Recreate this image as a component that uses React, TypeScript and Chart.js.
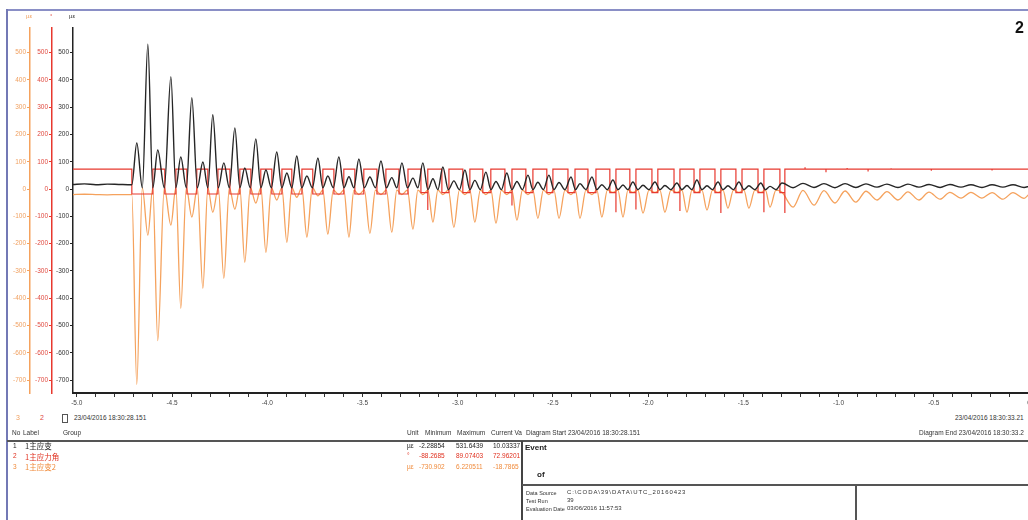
import React, { useEffect, useRef } from 'react';
import { Chart, registerables } from 'chart.js';

Chart.register(...registerables);

// ---- data (x in seconds, y in series units) ----
// times of main (large) black peaks, one per cycle
const mainT = [-4.627, -4.506, -4.396, -4.286, -4.170, -4.060, -3.950, -3.845, -3.734, -3.624, -3.519, -3.403, -3.293, -3.183, -3.078, -2.962, -2.852, -2.742, -2.631, -2.521, -2.405, -2.295, -2.185, -2.080, -1.964, -1.849, -1.744, -1.633, -1.523, -1.408, -1.297, -1.187, -1.077, -0.966, -0.856, -0.746, -0.636, -0.525, -0.415, -0.305, -0.194, -0.084];
// times of secondary black peaks / deep orange troughs (preceding each main peak)
const secT = [-4.685, -4.575, -4.454, -4.338, -4.228, -4.118, -4.007, -3.897, -3.792, -3.682, -3.571, -3.461, -3.346, -3.235, -3.130, -3.020, -2.910, -2.799, -2.689, -2.579, -2.468, -2.358, -2.243, -2.132, -2.027, -1.912, -1.796, -1.691, -1.581, -1.471, -1.360, -1.239, -1.129, -1.019, -0.909, -0.798, -0.688, -0.578, -0.467, -0.357, -0.247, -0.137];

// black series 1主应变 (µε)
const blackMain = [531, 412, 335, 272, 224, 184, 136, 121, 114, 118, 110, 103, 96, 96, 81, 70, 62, 59, 51, 51, 44, 44, 33, 26, 26, 22, 33, 26, 26, 22, 22, 21, 20, 20, 19, 18, 18, 17, 17, 16, 16, 16];
const blackSec = [169, 143, 118, 99, 96, 77, 70, 59, 48, 48, 45, 44, 42, 40, 38, 30, 32, 28, 28, 25, 24, 20, 16, 15, 14, 13, 13, 12, 12, 12, 10, 5, 6, 5, 6, 7, 6, 7, 6, 7, 6, 7];
const blackLow: (number | null)[] = [5, 5, 5, 5, 5, 5, 5, 5, 5, 5, 5, 5, 5, 5, -2, -2, -2, -2, -2, -2, -2, -2, -2, -2, -2, -2, -2, -2, -2, -2, -2, null, null, null, null, null, null, null, null, null, null, null];
const preT = [-5.02, -4.96, -4.9, -4.84, -4.78, -4.711];
const blackPre = [17, 19, 16, 18, 17, 16];
const finalT = [-0.026, 0];
const blackFinal = [6, 10];

// orange series 1主应变2 (µε)
const orangeTrough = [-715, -555, -437, -364, -327, -268, -232, -195, -176, -165, -176, -162, -158, -147, -121, -140, -121, -125, -114, -107, -107, -107, -103, -103, -88, -85, -85, -77, -70, -70, -66, -66, -59, -51, -48, -40, -40, -40, -37, -33, -33, -37];
const orangeDip = [-169, -132, -103, -85, -74, -51, -40, -30, -25, -20, -20, -20, -20, -20, -20, -20, -20, -20, -20, -20, -20, -20, -12, -12, -12, -12, -12, -12, -12, -12, -12, -5, -6, -7, -8, -9, -10, -11, -12, -12, -13, -13];
const orangeHigh: (number | null)[] = [5, 5, 5, 5, 5, 5, 5, 5, 5, -4, -4, -4, -4, -4, -4, -4, -4, -4, -4, -4, -4, -4, -4, -4, -4, -4, -4, -4, -4, -4, -4, null, null, null, null, null, null, null, null, null, null, null];
const orangePre = [-20, -19, -20, -21, -20, -20];
const orangeFinal = [-34, -19];

// red series 1主应力角 (°)
const redHigh = 73;
const redDropStart = [-4.711, -4.538, -4.422, -4.312, -4.196, -4.086, -3.976, -3.871, -3.761, -3.650, -3.540, -3.424, -3.308, -3.193, -3.083, -2.973, -2.868, -2.752, -2.642, -2.532, -2.421, -2.316, -2.201, -2.096, -1.980, -1.864, -1.759, -1.649, -1.539, -1.423, -1.308];
const redDropEnd = [-4.601, -4.480, -4.370, -4.259, -4.144, -4.034, -3.923, -3.818, -3.708, -3.598, -3.493, -3.377, -3.261, -3.157, -3.046, -2.936, -2.826, -2.715, -2.605, -2.500, -2.384, -2.274, -2.169, -2.064, -1.949, -1.833, -1.728, -1.618, -1.507, -1.392, -1.282];
const redLow = [-18, -18, -18, -18, -18, -18, -18, -18, -18, -18, -18, -18, -18, -13, -13, -13, -13, -13, -13, -13, -13, -13, -13, -13, -13, -13, -13, -13, -13, -13, -13];
const redSpike: (number | null)[] = [null, null, null, null, null, null, null, null, null, null, null, null, null, -77, null, null, null, -60, null, null, null, null, -85, -75, null, -80, null, -88, null, -85, -88];
const redBlipT = [-1.176, -1.066, -0.955, -0.845, -0.724, -0.513, -0.357, -0.194];
const redBlipV = [80, 62, 77, 64, 76, 67, 75, 68];

// axes
const X_MIN = -5.02;
const X_MAX = 0;
const Y_MIN = -747;
const Y_MAX = 590;

const FONT = '"Liberation Sans", Arial, Helvetica, sans-serif';
const CJK = '"Noto Sans CJK SC", "Liberation Sans", sans-serif';

function buildBlack() {
  const pts: { x: number; y: number }[] = preT.map((t, i) => ({ x: t, y: blackPre[i] }));
  for (let i = 0; i < mainT.length; i++) {
    const lo = blackLow[i];
    if (i > 0 && lo !== null) pts.push({ x: (mainT[i - 1] + secT[i]) / 2, y: lo });
    pts.push({ x: secT[i], y: blackSec[i] });
    if (lo !== null) pts.push({ x: (secT[i] + mainT[i]) / 2, y: lo });
    pts.push({ x: mainT[i], y: blackMain[i] });
  }
  finalT.forEach((t, i) => pts.push({ x: t, y: blackFinal[i] }));
  return pts;
}

function buildOrange() {
  const pts: { x: number; y: number }[] = preT.map((t, i) => ({ x: t, y: orangePre[i] }));
  for (let i = 0; i < mainT.length; i++) {
    const hi = orangeHigh[i];
    if (i > 0 && hi !== null) pts.push({ x: (mainT[i - 1] + secT[i]) / 2, y: hi });
    pts.push({ x: secT[i], y: orangeTrough[i] });
    if (hi !== null) pts.push({ x: (secT[i] + mainT[i]) / 2, y: hi });
    pts.push({ x: mainT[i], y: orangeDip[i] });
  }
  finalT.forEach((t, i) => pts.push({ x: t, y: orangeFinal[i] }));
  return pts;
}

function buildRed() {
  const pts: { x: number; y: number }[] = [{ x: X_MIN, y: redHigh }];
  for (let j = 0; j < redDropStart.length; j++) {
    pts.push({ x: redDropStart[j], y: redHigh });
    pts.push({ x: redDropStart[j], y: redLow[j] });
    pts.push({ x: redDropEnd[j], y: redLow[j] });
    const sp = redSpike[j];
    if (sp !== null) pts.push({ x: redDropEnd[j], y: sp });
    pts.push({ x: redDropEnd[j], y: redHigh });
  }
  redBlipT.forEach((t, i) => {
    pts.push({ x: t, y: redHigh });
    pts.push({ x: t, y: redBlipV[i] });
    pts.push({ x: t, y: redHigh });
  });
  pts.push({ x: X_MAX, y: redHigh });
  return pts;
}

function yAxis(line: string, label: string, weight: number, width: number) {
  return {
    type: 'linear',
    position: 'left',
    weight,
    min: Y_MIN,
    max: Y_MAX,
    ticks: {
      stepSize: 100,
      includeBounds: false,
      color: label,
      padding: 1,
      font: { size: 6.5, family: FONT },
      callback: (v: any) => String(v),
    },
    grid: { drawOnChartArea: false, tickLength: 3, color: line },
    border: { color: line, width: 1.5 },
    afterFit: (s: any) => {
      s.width = width;
    },
  };
}

function Txt(props: { x: number; y: number; s?: number; c?: string; b?: boolean; f?: string; ls?: number; children: any }) {
  const s = props.s ?? 6.5;
  return (
    <div
      style={{
        position: 'absolute',
        left: props.x,
        top: props.y - s * 0.6,
        fontSize: s,
        lineHeight: `${s * 1.2}px`,
        color: props.c ?? '#333',
        fontWeight: props.b ? 'bold' : 'normal',
        fontFamily: props.f ?? FONT,
        letterSpacing: props.ls ?? 0,
        whiteSpace: 'nowrap',
      }}
    >
      {props.children}
    </div>
  );
}

function Line(props: { x: number; y: number; w: number; h: number; c: string }) {
  return (
    <div style={{ position: 'absolute', left: props.x, top: props.y, width: props.w, height: props.h, background: props.c }} />
  );
}

export default function App() {
  const ref = useRef<HTMLCanvasElement | null>(null);

  useEffect(() => {
    if (!ref.current) return;
    const chart = new Chart(ref.current, {
      type: 'line',
      data: {
        datasets: [
          {
            label: '1主应变',
            data: buildBlack(),
            borderColor: '#262626',
            borderWidth: 1.4,
            pointRadius: 0,
            yAxisID: 'yB',
            cubicInterpolationMode: 'monotone',
            order: 0,
          },
          {
            label: '1主应力角',
            data: buildRed(),
            borderColor: '#e8382e',
            borderWidth: 1.2,
            pointRadius: 0,
            yAxisID: 'yR',
            tension: 0,
            order: 1,
          },
          {
            label: '1主应变2',
            data: buildOrange(),
            borderColor: '#f5a25d',
            borderWidth: 1.3,
            pointRadius: 0,
            yAxisID: 'yO',
            cubicInterpolationMode: 'monotone',
            order: 2,
          },
        ],
      },
      options: {
        animation: false,
        responsive: false,
        maintainAspectRatio: false,
        events: [],
        layout: { padding: { left: 8, top: 28, right: 31, bottom: 0 } },
        plugins: { legend: { display: false }, tooltip: { enabled: false } },
        scales: {
          x: {
            type: 'linear',
            position: 'bottom',
            min: X_MIN,
            max: X_MAX,
            ticks: {
              stepSize: 0.1,
              includeBounds: false,
              autoSkip: false,
              maxRotation: 0,
              color: '#444',
              padding: 2,
              font: { size: 6.5, family: FONT },
              callback: (v: any) => {
                const n = Number(v);
                if (Math.abs(n * 2 - Math.round(n * 2)) > 1e-6) return '';
                return n === 0 ? '0' : n.toFixed(1);
              },
            },
            grid: { drawOnChartArea: false, tickLength: 4, color: '#333' },
            border: { color: '#222', width: 2 },
            afterFit: (s: any) => {
              s.height = 17;
            },
          },
          yB: yAxis('#222', '#333', 0, 21),
          yR: yAxis('#e8382e', '#e04a40', 1, 22),
          yO: yAxis('#f5a25d', '#f0a060', 2, 22),
        } as any,
      },
    } as any);
    return () => chart.destroy();
  }, []);

  return (
    <div
      style={{
        position: 'fixed',
        left: 0,
        top: 0,
        width: 1028,
        height: 520,
        overflow: 'hidden',
        background: '#fff',
      }}
    >
      <canvas ref={ref} width={1060} height={410} style={{ position: 'absolute', left: 0, top: 0, width: 1060, height: 410, display: 'block' }} />

      {/* frame */}
      <Line x={7} y={9} w={1021} h={1.5} c="#8a8fc6" />
      <Line x={6} y={9} w={1.5} h={511} c="#7379b5" />

      {/* page number */}
      <div style={{ position: 'absolute', left: 1015, top: 20, fontSize: 16, lineHeight: '16px', fontWeight: 'bold', fontFamily: FONT, color: '#111' }}>2</div>

      {/* axis units */}
      <Txt x={26} y={17} s={6} c="#f0a060">µε</Txt>
      <Txt x={50} y={17} s={6} c="#e04a40">°</Txt>
      <Txt x={69} y={17} s={6} c="#333">µε</Txt>

      {/* below-chart line */}
      <Txt x={16} y={418} s={7} c="#f0a060">3</Txt>
      <Txt x={40} y={418} s={7} c="#e04a40">2</Txt>
      <div style={{ position: 'absolute', left: 62, top: 414, width: 4, height: 7, border: '1px solid #555' }} />
      <Txt x={74} y={418}>23/04/2016 18:30:28.151</Txt>
      <Txt x={955} y={418}>23/04/2016 18:30:33.21</Txt>

      {/* table header */}
      <Txt x={12} y={433}>No</Txt>
      <Txt x={23} y={433}>Label</Txt>
      <Txt x={63} y={433}>Group</Txt>
      <Txt x={407} y={433}>Unit</Txt>
      <Txt x={425} y={433}>Minimum</Txt>
      <Txt x={457} y={433}>Maximum</Txt>
      <Txt x={491} y={433}>Current Va</Txt>
      <Txt x={526} y={433}>Diagram Start 23/04/2016 18:30:28.151</Txt>
      <Txt x={919} y={433}>Diagram End 23/04/2016 18:30:33.2</Txt>
      <Line x={7} y={440} w={1021} h={2} c="#555" />

      {/* rows */}
      <Txt x={13} y={445.5} c="#222">1</Txt>
      <Txt x={25} y={445.5} s={7.5} c="#222" f={CJK}>1主应变</Txt>
      <Txt x={407} y={445.5} c="#222">µε</Txt>
      <Txt x={419} y={445.5} c="#222">-2.28854</Txt>
      <Txt x={456} y={445.5} c="#222">531.6439</Txt>
      <Txt x={493} y={445.5} c="#222">10.03337</Txt>

      <Txt x={13} y={456} c="#e0301f">2</Txt>
      <Txt x={25} y={456} s={7.5} c="#e0301f" f={CJK}>1主应力角</Txt>
      <Txt x={407} y={456} c="#e0301f">°</Txt>
      <Txt x={419} y={456} c="#e0301f">-88.2685</Txt>
      <Txt x={456} y={456} c="#e0301f">89.07403</Txt>
      <Txt x={493} y={456} c="#e0301f">72.96201</Txt>

      <Txt x={13} y={466.5} c="#f08a3a">3</Txt>
      <Txt x={25} y={466.5} s={7.5} c="#f08a3a" f={CJK}>1主应变2</Txt>
      <Txt x={407} y={466.5} c="#f08a3a">µε</Txt>
      <Txt x={419} y={466.5} c="#f08a3a">-730.902</Txt>
      <Txt x={456} y={466.5} c="#f08a3a">6.220511</Txt>
      <Txt x={493} y={466.5} c="#f08a3a">-18.7865</Txt>

      {/* event box */}
      <Line x={521} y={441} w={2} h={79} c="#444" />
      <Txt x={525} y={448} s={8} b c="#222">Event</Txt>
      <Txt x={537} y={475} s={8} b c="#222">of</Txt>
      <Line x={522} y={484} w={506} h={2} c="#555" />
      <Line x={855} y={485} w={1.5} h={35} c="#555" />
      <Txt x={526} y={493} s={5.5}>Data Source</Txt>
      <Txt x={567} y={493} s={6} ls={0.9}>C:\CODA\39\DATA\UTC_20160423</Txt>
      <Txt x={526} y={501} s={5.5}>Test Run</Txt>
      <Txt x={567} y={501} s={6}>39</Txt>
      <Txt x={526} y={509} s={5.5}>Evaluation Date</Txt>
      <Txt x={567} y={509} s={6}>03/06/2016 11:57:53</Txt>
    </div>
  );
}
